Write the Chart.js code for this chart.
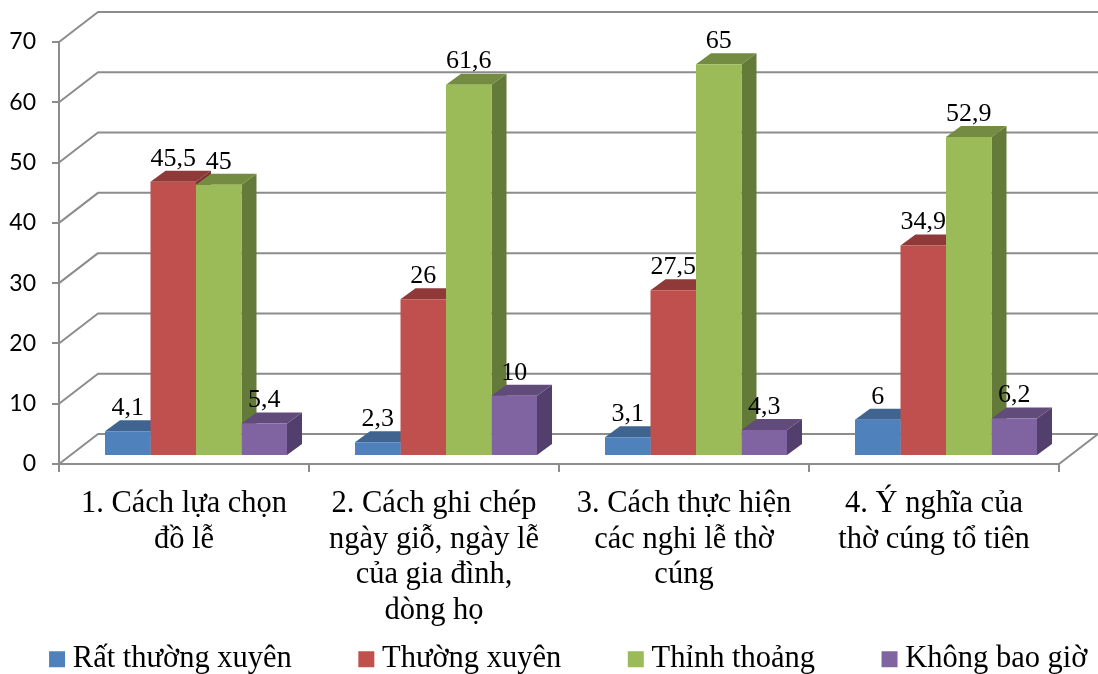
<!DOCTYPE html>
<html><head><meta charset="utf-8">
<style>html,body{margin:0;padding:0;background:#fff;overflow:hidden}canvas{display:block}</style>
<script src="https://cdn.jsdelivr.net/npm/chart.js@4/dist/chart.umd.min.js"></script>
</head><body><canvas id="c" width="1098" height="674"></canvas>
<script>
const categories = [
  ['1. Cách lựa chọn','đồ lễ'],
  ['2. Cách ghi chép','ngày giỗ, ngày lễ','của gia đình,','dòng họ'],
  ['3. Cách thực hiện','các nghi lễ thờ','cúng'],
  ['4. Ý nghĩa của','thờ cúng tổ tiên']
];
const ratThuongXuyen = [4.1, 2.3, 3.1, 6];
const thuongXuyen = [45.5, 26, 27.5, 34.9];
const thinhThoang = [45, 61.6, 65, 52.9];
const khongBaoGio = [5.4, 10, 4.3, 6.2];
const seriesNames = ['Rất thường xuyên','Thường xuyên','Thỉnh thoảng','Không bao giờ'];
const frontColors = ['#4F81BD','#C0504D','#9BBB59','#8064A2'];
const topColors = ['#3E648F','#8F3A38','#748C42','#604B7A'];
const sideColors = ['#355680','#7C3230','#647A38','#533F6D'];
const gridColor = '#8C8C8C';
const serif = '"Liberation Serif","Times New Roman",serif';
const wallDx = 39, wallDy = -30, barDx = 12, barDy = -8, depthDx = 15, depthDy = -11;

const scene3d = {
  id:'scene3d',
  beforeLayout(chart){
    const lg = chart.legend;
    if(lg && !lg._wide){
      lg._wide = true;
      const u = lg.update;
      lg.update = function(w,h,m){ u.call(this,w+300,h,m); this.height = 46; };
    }
  },
  afterLayout(chart){
    const lg = chart.legend;
    lg.left = -200; lg.right = 1344; lg.width = 1544;
    lg.top = 570; lg.bottom = 674;
  },
  beforeDatasetsDraw(chart){
    const {ctx, scales:{x,y}} = chart;
    const L = x.left, R = x.right;
    ctx.save();
    ctx.strokeStyle = gridColor; ctx.lineWidth = 2; ctx.lineJoin='round';
    y.ticks.forEach(t=>{
      const p = y.getPixelForValue(t.value);
      ctx.beginPath(); ctx.moveTo(L,p); ctx.lineTo(L+wallDx,p+wallDy); ctx.lineTo(R+wallDx,p+wallDy); ctx.stroke();
    });
    const b = y.getPixelForValue(0);
    ctx.beginPath(); ctx.moveTo(R,b); ctx.lineTo(R+wallDx,b+wallDy); ctx.stroke();
    ctx.restore();
    ctx.save();
    ctx.translate(barDx,barDy);
    chart.data.datasets.forEach((ds,i)=>{
      chart.getDatasetMeta(i).data.forEach(el=>{
        const hw = el.width/2, l = el.x-hw, r = el.x+hw, t = el.y, bs = el.base;
        ctx.fillStyle = sideColors[i];
        ctx.beginPath(); ctx.moveTo(r,t); ctx.lineTo(r+depthDx,t+depthDy); ctx.lineTo(r+depthDx,bs+depthDy); ctx.lineTo(r,bs); ctx.closePath(); ctx.fill();
        ctx.fillStyle = topColors[i];
        ctx.beginPath(); ctx.moveTo(l,t); ctx.lineTo(r,t); ctx.lineTo(r+depthDx,t+depthDy); ctx.lineTo(l+depthDx,t+depthDy); ctx.closePath(); ctx.fill();
      });
    });
    // the library draws the front faces next, inside this translation
  },
  afterDatasetsDraw(chart){
    const {ctx} = chart;
    ctx.fillStyle = '#000'; ctx.font = '26px '+serif; ctx.textAlign='center'; ctx.textBaseline='middle';
    chart.data.datasets.forEach((ds,i)=>{
      chart.getDatasetMeta(i).data.forEach((el,j)=>{
        ctx.fillText(String(ds.data[j]).replace('.',','), el.x, el.y-23);
      });
    });
    ctx.restore();
  }
};

new Chart(document.getElementById('c'),{
  type:'bar',
  data:{labels:categories,datasets:[ratThuongXuyen,thuongXuyen,thinhThoang,khongBaoGio].map((d,i)=>({
    label:seriesNames[i],data:d,backgroundColor:frontColors[i],borderWidth:0,
    categoryPercentage:0.728,barPercentage:1,clip:false
  }))},
  options:{
    responsive:false,animation:false,
    layout:{padding:{left:0,right:39,top:42,bottom:0}},
    plugins:{
      tooltip:{enabled:false},
      legend:{position:'bottom',labels:{
        color:'#000',font:{family:serif,size:30.5},padding:74,
        usePointStyle:true,pointStyle:'rect',boxWidth:1,boxHeight:16
      }}
    },
    scales:{
      x:{
        afterFit(s){s.height=164;},
        grid:{drawOnChartArea:false,color:gridColor,lineWidth:2,tickLength:8,offset:true},
        border:{color:gridColor,width:2},
        ticks:{color:'#000',font:{family:serif,size:30.5,lineHeight:1.17},maxRotation:0,autoSkip:false,padding:14}
      },
      y:{
        min:0,max:70,
        afterFit(s){s.width=59;},
        grid:{drawOnChartArea:false,color:gridColor,lineWidth:2,tickLength:7},
        border:{color:gridColor,width:2},
        ticks:{stepSize:10,color:'#000',font:{family:'Lato',size:23},padding:16}
      }
    }
  },
  plugins:[scene3d]
});
</script></body></html>
